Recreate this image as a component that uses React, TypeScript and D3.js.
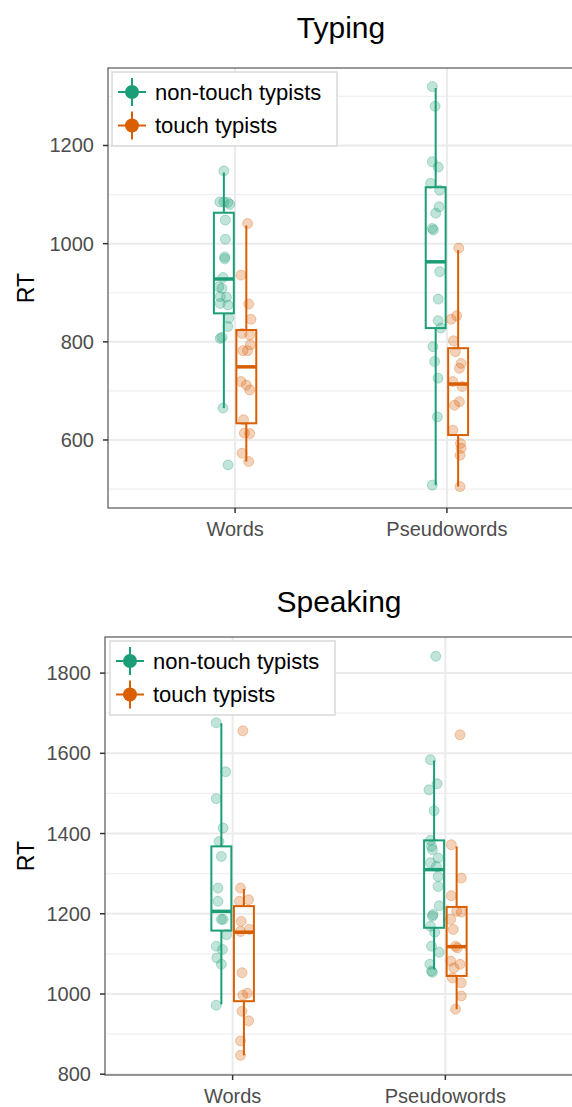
import React from 'react';
import * as d3 from 'd3';

// categories / groups
const categories = ['Words', 'Pseudowords'];
const groups = ['non-touch typists', 'touch typists'];
const groupColors = ['#1b9e77', '#d95f02'];

// axis ticks
const typingTicks = [600, 800, 1000, 1200];
const typingMinor = [500, 700, 900, 1100, 1300];
const speakingTicks = [800, 1000, 1200, 1400, 1600, 1800];
const speakingMinor = [900, 1100, 1300, 1500, 1700];

// box stats: [lower whisker, q1, median, q3, upper whisker]
const typingWordsNonTouchBox = [665, 858, 928, 1063, 1145];
const typingWordsTouchBox = [556, 634, 749, 824, 1037];
const typingPseudoNonTouchBox = [508, 828, 963, 1115, 1317];
const typingPseudoTouchBox = [505, 610, 714, 787, 987];
const speakingWordsNonTouchBox = [974, 1158, 1206, 1368, 1675];
const speakingWordsTouchBox = [847, 982, 1154, 1219, 1262];
const speakingPseudoNonTouchBox = [1061, 1165, 1310, 1383, 1582];
const speakingPseudoTouchBox = [962, 1045, 1118, 1217, 1368];

// participant RTs: [RT, jitter (fraction of category step)]
const typingWordsNonTouch = [[1148, 0], [1085, -0.019], [1085, 0], [1084, 0.019], [1080, 0.028], [1048, 0.007], [1009, 0.007], [973, 0.004], [969, 0.004], [931, -0.004], [912, -0.024], [909, -0.009], [892, -0.017], [891, 0.012], [878, -0.017], [875, 0.019], [848, 0.024], [831, 0.019], [807, -0.017], [809, -0.009], [665, -0.004], [549, 0.02]];
const typingWordsTouch = [[1041, 0.006], [936, -0.025], [877, 0.011], [846, 0.022], [817, -0.02], [814, 0.016], [794, 0.019], [782, -0.016], [782, 0.006], [719, -0.025], [712, 0], [702, 0.016], [641, -0.013], [614, -0.009], [613, 0.016], [573, -0.02], [556, 0.011]];
const typingPseudoNonTouch = [[1320, -0.016], [1280, -0.003], [1167, -0.016], [1156, 0.012], [1123, -0.024], [1109, 0.019], [1075, 0.016], [1062, 0], [1031, -0.016], [1028, -0.011], [943, 0.019], [887, 0.012], [843, 0.012], [828, 0.024], [790, -0.013], [760, -0.005], [726, 0.011], [647, 0.008], [508, -0.016]];
const typingPseudoTouch = [[991, 0.003], [853, -0.007], [846, -0.033], [802, -0.022], [780, -0.013], [756, 0.014], [746, 0.006], [719, -0.025], [709, 0.019], [678, 0.006], [671, -0.017], [620, -0.025], [593, 0.011], [583, 0.014], [569, 0.009], [505, 0.009]];
const speakingWordsNonTouch = [[1676, -0.024], [1554, 0.02], [1487, -0.024], [1414, 0.008], [1380, -0.011], [1343, 0], [1264, -0.016], [1231, -0.016], [1186, 0.008], [1186, 0], [1148, 0.024], [1119, -0.024], [1111, 0.005], [1090, -0.021], [1074, 0], [972, -0.024]];
const speakingWordsTouch = [[1656, -0.005], [1264, -0.016], [1231, -0.021], [1235, 0.022], [1181, -0.013], [1156, -0.016], [1161, 0.026], [1053, -0.009], [997, -0.005], [1002, 0.016], [957, -0.009], [933, 0.022], [883, -0.016], [847, -0.016]];
const speakingPseudoNonTouch = [[1842, 0.008], [1584, -0.017], [1524, 0.014], [1509, -0.024], [1457, 0], [1383, -0.017], [1368, -0.012], [1360, -0.008], [1339, 0.019], [1327, -0.017], [1318, 0.011], [1293, 0.019], [1268, 0.019], [1220, 0.024], [1198, -0.005], [1194, -0.008], [1169, -0.017], [1154, 0.003], [1119, -0.012], [1104, 0.024], [1074, -0.02], [1057, -0.012], [1054, -0.008]];
const speakingPseudoTouch = [[1646, 0.016], [1372, -0.025], [1289, 0.022], [1245, -0.025], [1206, 0], [1204, 0.022], [1186, -0.028], [1161, -0.016], [1119, -0.005], [1115, 0.003], [1082, -0.028], [1074, 0.016], [1065, -0.013], [1040, -0.02], [1028, 0.022], [995, 0.022], [962, -0.005]];

const FONT = '"Liberation Sans", Arial, Helvetica, sans-serif';
const DODGE = 0.053;
const BOX_W = 0.094;

type Cell = { cat: string; g: number; box: number[]; pts: number[][] };

function Panel({ title, titleY, left, right, top, bottom, domain, ticks, minor, cells, legendBox }) {
  const x = d3.scalePoint().domain(categories).range([left, right]).padding(0.6);
  const step = x.step();
  const y = d3.scaleLinear().domain(domain).range([bottom, top]);
  const cx = (left + right) / 2;

  return (
    <g>
      <text x={cx} y={titleY} textAnchor="middle" fontSize={30} fontFamily={FONT} fill="#000">{title}</text>
      <rect x={left} y={top} width={right - left} height={bottom - top} fill="#fff" />
      {minor.map(v => (
        <line key={'m' + v} x1={left} x2={right} y1={y(v)} y2={y(v)} stroke="#f0f0f0" strokeWidth={1.2} />
      ))}
      {ticks.map(v => (
        <line key={'g' + v} x1={left} x2={right} y1={y(v)} y2={y(v)} stroke="#ebebeb" strokeWidth={2} />
      ))}
      {categories.map(c => (
        <line key={'v' + c} x1={x(c)} x2={x(c)} y1={top} y2={bottom} stroke="#ebebeb" strokeWidth={2} />
      ))}
      {cells.map((cell: Cell, i) => {
        const col = groupColors[cell.g];
        const c0 = x(cell.cat) + (cell.g === 0 ? -DODGE : DODGE) * step;
        const bw = BOX_W * step;
        const [lo, q1, med, q3, hi] = cell.box;
        return (
          <g key={'c' + i}>
            <line x1={c0} x2={c0} y1={y(hi)} y2={y(q3)} stroke={col} strokeWidth={2} />
            <line x1={c0} x2={c0} y1={y(q1)} y2={y(lo)} stroke={col} strokeWidth={2} />
            <rect x={c0 - bw / 2} y={y(q3)} width={bw} height={y(q1) - y(q3)} fill="none" stroke={col} strokeWidth={2} />
            <line x1={c0 - bw / 2} x2={c0 + bw / 2} y1={y(med)} y2={y(med)} stroke={col} strokeWidth={3.5} />
            {cell.pts.map((p, k) => (
              <circle key={k} cx={c0 + p[1] * step} cy={y(p[0])} r={5} fill={col} fillOpacity={0.28} stroke={col} strokeOpacity={0.3} strokeWidth={1} />
            ))}
          </g>
        );
      })}
      <rect x={left} y={top} width={right - left} height={bottom - top} fill="none" stroke="#555" strokeWidth={1.2} />
      {ticks.map(v => (
        <g key={'t' + v}>
          <line x1={left - 5} x2={left} y1={y(v)} y2={y(v)} stroke="#333" strokeWidth={1.5} />
          <text x={left - 14} y={y(v)} dy="0.35em" textAnchor="end" fontSize={20} fontFamily={FONT} fill="#4d4d4d">{v}</text>
        </g>
      ))}
      {categories.map(c => (
        <g key={'xt' + c}>
          <line x1={x(c)} x2={x(c)} y1={bottom} y2={bottom + 5} stroke="#333" strokeWidth={1.5} />
          <text x={x(c)} y={bottom + 28} textAnchor="middle" fontSize={20} fontFamily={FONT} fill="#4d4d4d">{c}</text>
        </g>
      ))}
      <text transform={`translate(34,${(top + bottom) / 2}) rotate(-90)`} textAnchor="middle" fontSize={23} fontFamily={FONT} fill="#000">RT</text>
      <g>
        <rect x={legendBox[0]} y={legendBox[1]} width={legendBox[2]} height={legendBox[3]} fill="#fff" stroke="#d9d9d9" strokeWidth={1.5} />
        {groups.map((g, i) => {
          const ky = legendBox[1] + 20 + i * 33.5;
          const kx = legendBox[0] + 20;
          const col = groupColors[i];
          return (
            <g key={g}>
              <line x1={kx - 14} x2={kx + 14} y1={ky} y2={ky} stroke={col} strokeWidth={2} />
              <line x1={kx} x2={kx} y1={ky - 14} y2={ky + 14} stroke={col} strokeWidth={2} />
              <circle cx={kx} cy={ky} r={7} fill={col} />
              <text x={legendBox[0] + 43} y={ky} dy="0.35em" fontSize={22} fontFamily={FONT} fill="#000">{g}</text>
            </g>
          );
        })}
      </g>
    </g>
  );
}

export default function App() {
  const typingCells = [
    { cat: 'Words', g: 0, box: typingWordsNonTouchBox, pts: typingWordsNonTouch },
    { cat: 'Words', g: 1, box: typingWordsTouchBox, pts: typingWordsTouch },
    { cat: 'Pseudowords', g: 0, box: typingPseudoNonTouchBox, pts: typingPseudoNonTouch },
    { cat: 'Pseudowords', g: 1, box: typingPseudoTouchBox, pts: typingPseudoTouch },
  ];
  const speakingCells = [
    { cat: 'Words', g: 0, box: speakingWordsNonTouchBox, pts: speakingWordsNonTouch },
    { cat: 'Words', g: 1, box: speakingWordsTouchBox, pts: speakingWordsTouch },
    { cat: 'Pseudowords', g: 0, box: speakingPseudoNonTouchBox, pts: speakingPseudoNonTouch },
    { cat: 'Pseudowords', g: 1, box: speakingPseudoTouchBox, pts: speakingPseudoTouch },
  ];
  return (
    <svg width={572} height={1107} style={{ position: 'absolute', left: 0, top: 0, background: '#fff' }}>
      <Panel title="Typing" titleY={38} left={108} right={574} top={68} bottom={508}
        domain={[461.4, 1357.9]} ticks={typingTicks} minor={typingMinor} cells={typingCells}
        legendBox={[112, 72, 225, 74]} />
      <Panel title="Speaking" titleY={612} left={105} right={573} top={637} bottom={1075}
        domain={[798, 1890]} ticks={speakingTicks} minor={speakingMinor} cells={speakingCells}
        legendBox={[110, 641, 225, 74]} />
    </svg>
  );
}
